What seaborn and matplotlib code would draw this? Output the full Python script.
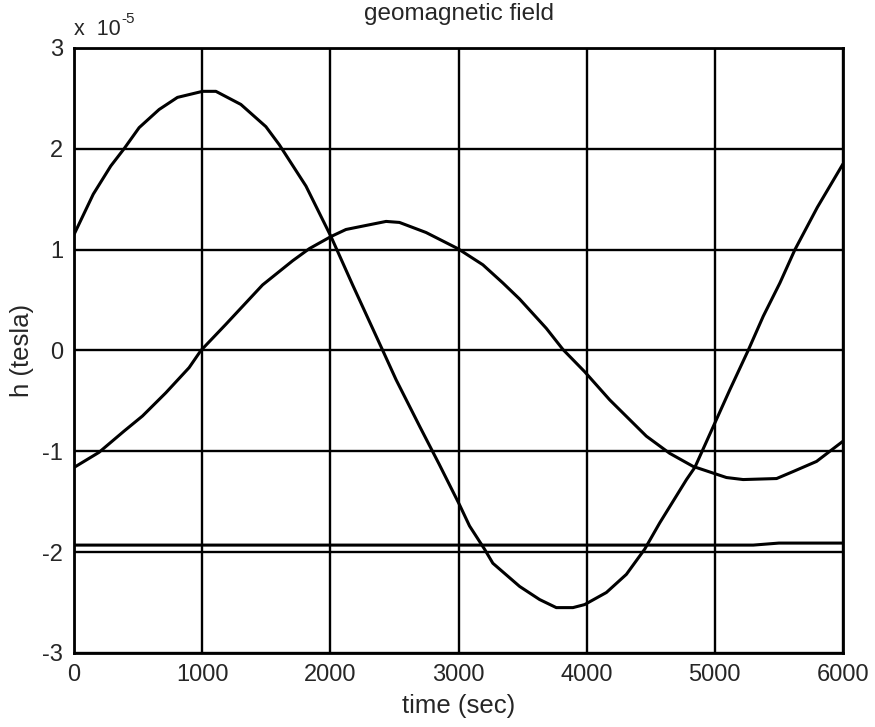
import numpy as np
import pandas as pd
import matplotlib
matplotlib.use('Agg')
import matplotlib.pyplot as plt
import seaborn as sns

# values in units of 1e-5 tesla
t_a = [0, 150, 287, 390, 508, 664, 807, 1003, 1107, 1302, 1497, 1602, 1810, 2005,
       2174, 2409, 2513, 2700, 2850, 3008, 3086, 3203, 3268, 3477, 3633, 3763,
       3893, 3984, 4154, 4310, 4453, 4570, 4779, 4844, 5000, 5117, 5260, 5378,
       5508, 5625, 5800, 6000]
h_a = [1.15, 1.55, 1.83, 2.0, 2.21, 2.39, 2.51, 2.57, 2.57, 2.44, 2.22, 2.04, 1.63,
       1.13, 0.65, 0.0, -0.29, -0.76, -1.13, -1.53, -1.74, -1.97, -2.11, -2.34,
       -2.47, -2.55, -2.55, -2.52, -2.40, -2.22, -1.97, -1.71, -1.28, -1.16, -0.72,
       -0.39, 0.0, 0.34, 0.67, 1.0, 1.42, 1.85]

t_b = [0, 195, 390, 534, 716, 898, 990, 1185, 1471, 1706, 1836, 2005, 2122, 2278,
       2435, 2539, 2747, 2995, 3190, 3346, 3477, 3685, 3815, 3984, 4180, 4466,
       4648, 4831, 5091, 5221, 5482, 5612, 5794, 6000]
h_b = [-1.16, -1.01, -0.80, -0.65, -0.42, -0.17, 0.0, 0.26, 0.65, 0.89, 1.01, 1.13,
       1.20, 1.24, 1.28, 1.27, 1.17, 1.01, 0.85, 0.67, 0.51, 0.22, 0.01, -0.21,
       -0.49, -0.85, -1.02, -1.15, -1.26, -1.28, -1.27, -1.20, -1.10, -0.90]

t_c = [0, 1000, 2000, 3000, 4000, 5000, 5300, 5500, 6000]
h_c = [-1.93, -1.93, -1.93, -1.93, -1.93, -1.93, -1.93, -1.91, -1.91]

xticks = [0, 1000, 2000, 3000, 4000, 5000, 6000]
yticks = [-3, -2, -1, 0, 1, 2, 3]

sns.set_style('white')
plt.rcParams['font.family'] = ['Liberation Sans', 'DejaVu Sans']
plt.rcParams['axes.unicode_minus'] = False

fig = plt.figure(figsize=(8.75, 7.27), dpi=100)
ax = fig.add_axes([0.0846, 0.1018, 0.8788, 0.8322])

for t, h in [(t_a, h_a), (t_b, h_b), (t_c, h_c)]:
    df = pd.DataFrame({'t': t, 'h': h})
    sns.lineplot(data=df, x='t', y='h', ax=ax, color='black', linewidth=2.2,
                 sort=False, estimator=None)

ax.set_xlim(0, 6000)
ax.set_ylim(-3, 3)
ax.set_xticks(xticks)
ax.set_yticks(yticks)
ax.grid(True, color='black', linewidth=1.7)
ax.set_axisbelow(True)
for s in ax.spines.values():
    s.set_color('black')
    s.set_linewidth(2)
ax.tick_params(labelsize=17, length=0)
ax.tick_params(axis='x', pad=8)
ax.tick_params(axis='y', pad=8)

ax.set_title('geomagnetic field', fontsize=17.5, pad=20)
ax.set_xlabel('time (sec)', fontsize=18.5, labelpad=6)
ax.set_ylabel('h (tesla)', fontsize=18.5, labelpad=6)

# MATLAB-style exponent label
base = ax.text(0.0, 1.021, 'x  10', transform=ax.transAxes, fontsize=15.5,
               ha='left', va='baseline')
ax.annotate('-5', xy=(1.0, 1.0), xycoords=base, xytext=(0.5, 0),
            textcoords='offset points', fontsize=11, ha='left', va='center')

fig.savefig('out.png', dpi=100)
